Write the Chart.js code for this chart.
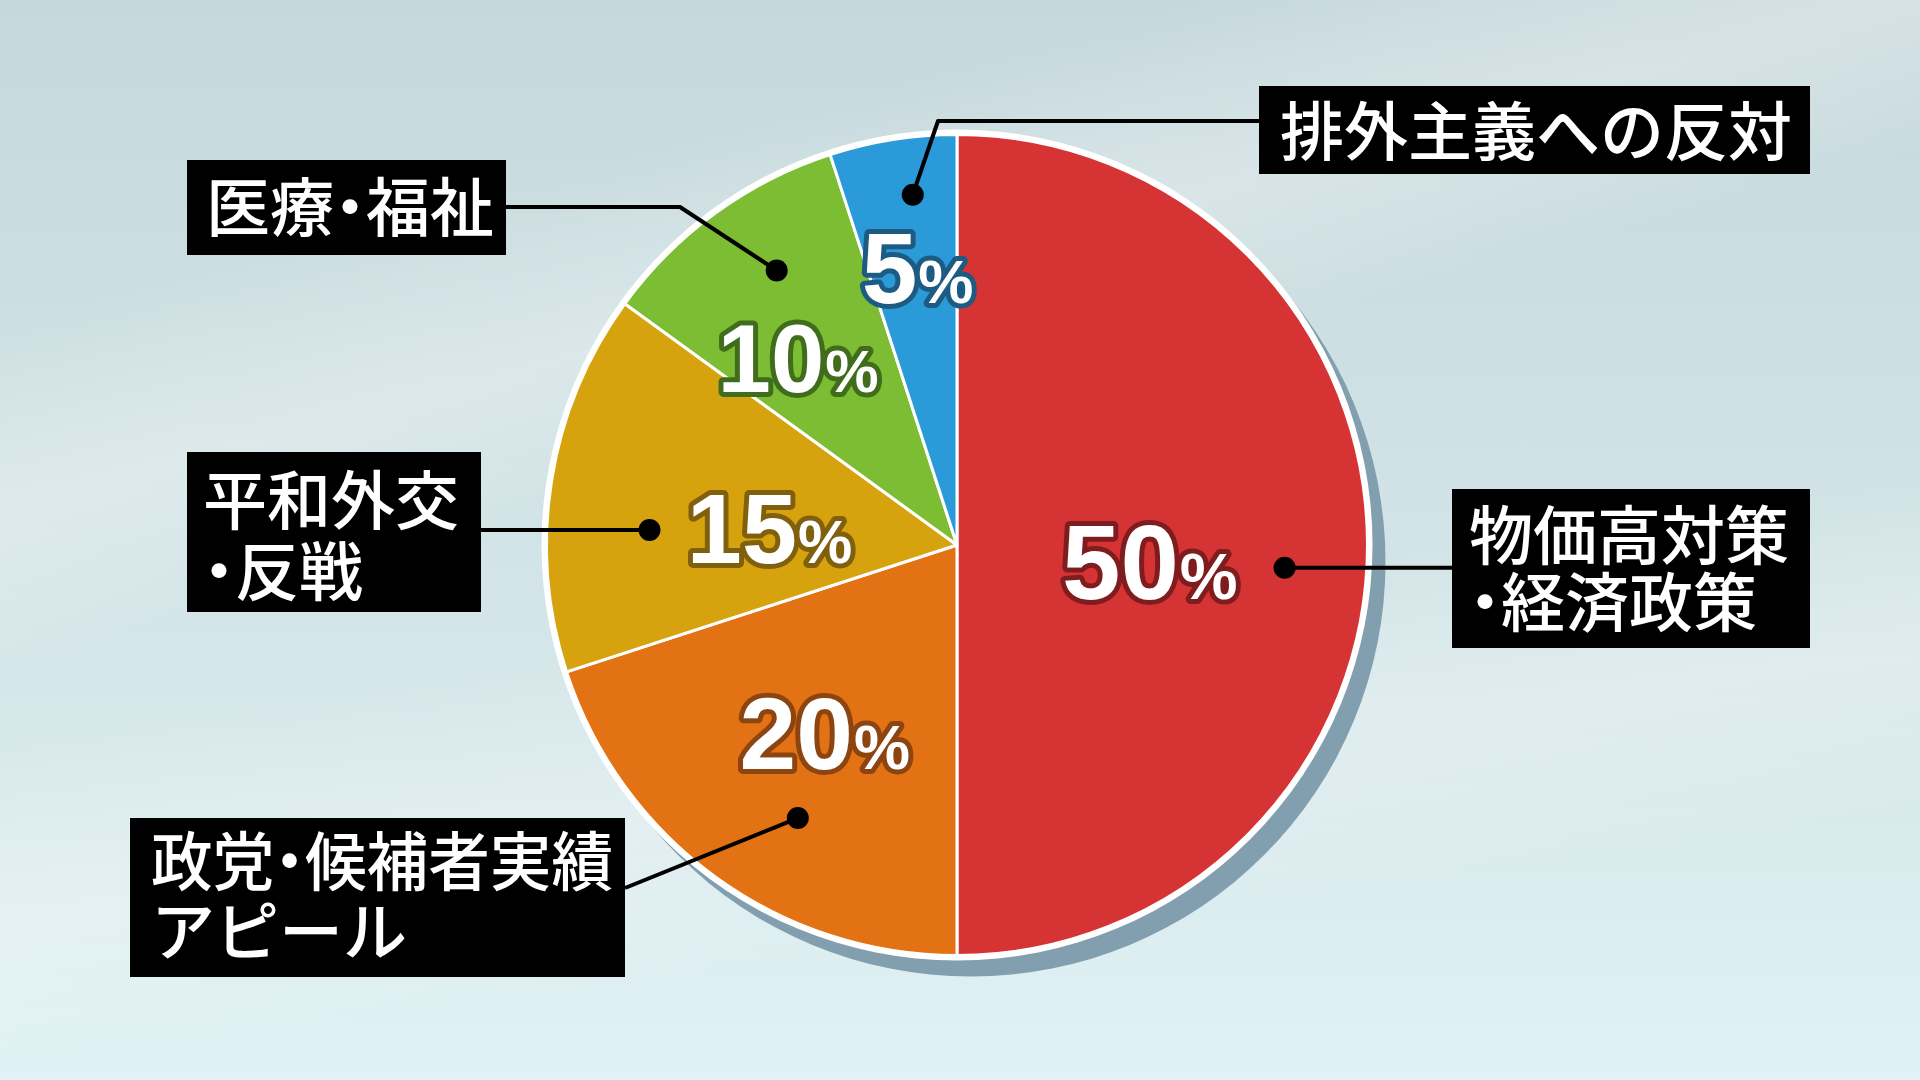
<!DOCTYPE html>
<html lang="ja">
<head>
<meta charset="utf-8">
<title>重視する争点</title>
<script src="https://cdn.jsdelivr.net/npm/chart.js@4.4.1/dist/chart.umd.min.js"></script>
<style>
  html, body { margin: 0; padding: 0; width: 1920px; height: 1080px; overflow: hidden; }
  body {
    background:
      linear-gradient(165deg, rgba(255,255,255,0) 20%, rgba(255,255,255,0.28) 32%, rgba(255,255,255,0) 42%),
      linear-gradient(172deg, rgba(255,255,255,0) 55%, rgba(255,255,255,0.25) 68%, rgba(255,255,255,0) 80%),
      linear-gradient(180deg, #c6d8dc 0%, #cfe1e4 40%, #d9eaed 75%, #e0f2f5 100%);
  }
  #wrap { position: relative; width: 1920px; height: 1080px; }
</style>
</head>
<body>
<div id="wrap"><canvas id="pie"></canvas></div>
<script>
// slices, clockwise from 12 o'clock
const categories = ["物価高対策\n・経済政策", "政党・候補者実績\nアピール", "平和外交\n・反戦", "医療・福祉", "排外主義への反対"];
const shares = [50, 20, 15, 10, 5];
const sliceColors = ["#d63334", "#e37215", "#d6a30f", "#7cbd33", "#2b9ad8"];
const outlineColors = ["#7e1c1e", "#8c4511", "#80600c", "#3f6d1c", "#1c5b82"];

// where each callout sits (dot as fraction of slice angle / radius, line, box, text)
const callouts = [
  { dot: [0.522, 0.80], line: [["h", 1452]], box: [1452, 489, 358, 159], tx: 1469, ty: [535, 602] },
  { dot: [0.42, 0.77], line: [[625, 888]], box: [130, 818, 495, 159], tx: 151, ty: [861, 931] },
  { dot: [0.385, 0.75], line: [["h", 481]], box: [187, 452, 294, 160], tx: 203, ty: [500, 571] },
  { dot: [0.575, 0.80], line: [[680, 207], [506, 207]], box: [187, 160, 319, 95], tx: 206, ty: [207] },
  { dot: [0.6, 0.86], line: [[938, 121], [1259, 121]], box: [1259, 86, 551, 88], tx: 1280, ty: [131] }
];
// percentage text inside slices
const pctPlace = [
  { pos: [0.526, 0.47], size: 105 },
  { pos: [0.49, 0.56], size: 102 },
  { pos: [0.435, 0.46], size: 99 },
  { pos: [0.38, 0.60], size: 96 },
  { pos: [0.545, 0.683], size: 100 }
];

function pointOn(arc, frac, rfrac) {
  const a = arc.startAngle + (arc.endAngle - arc.startAngle) * frac;
  const r = arc.outerRadius * rfrac;
  return [arc.x + Math.cos(a) * r, arc.y + Math.sin(a) * r];
}

function drawPct(ctx, value, cx, cy, size, outline) {
  const num = String(value);
  const big = "bold " + size + "px 'Liberation Sans', Arial, sans-serif";
  const small = "bold " + Math.round(size * 0.62) + "px 'Liberation Sans', Arial, sans-serif";
  ctx.font = big;
  const w1 = ctx.measureText(num).width;
  ctx.font = small;
  const w2 = ctx.measureText("%").width;
  const x0 = cx - (w1 + w2) / 2;
  const base = cy + size * 0.36;
  ctx.lineJoin = "round";
  ctx.lineWidth = 10;
  ctx.strokeStyle = outline;
  ctx.fillStyle = "#fff";
  ctx.textBaseline = "alphabetic";
  ctx.textAlign = "left";
  ctx.font = big; ctx.strokeText(num, x0, base);
  ctx.font = small; ctx.strokeText("%", x0 + w1 + 1, base);
  ctx.font = big; ctx.fillText(num, x0, base);
  ctx.font = small; ctx.fillText("%", x0 + w1 + 1, base);
}

// the nakaguro gets half an em, like the caption font in the picture
function drawCaption(ctx, text, x, y, maxW) {
  const em = 64;
  const chars = [...text];
  const widths = chars.map(ch => ch === "・" ? em * 0.5 : ctx.measureText(ch).width);
  const total = widths.reduce((a, b) => a + b, 0);
  const s = Math.min(1, maxW / total);
  ctx.save();
  ctx.translate(x, y);
  ctx.scale(s, 1);
  let cx = 0;
  chars.forEach((ch, k) => {
    if (ch === "・") {
      ctx.textAlign = "center";
      ctx.fillText(ch, cx + widths[k] / 2, 0);
    } else {
      ctx.textAlign = "left";
      ctx.fillText(ch, cx, 0);
    }
    cx += widths[k];
  });
  ctx.restore();
}

const calloutPlugin = {
  id: "callouts",
  beforeDatasetsDraw(chart) {
    const arc = chart.getDatasetMeta(0).data[0];
    const ctx = chart.ctx;
    ctx.save();
    // drop shadow + white rim
    ctx.fillStyle = "#819fae";
    ctx.beginPath();
    ctx.arc(arc.x + 14, arc.y + 17, arc.outerRadius + 4, 0, Math.PI * 2);
    ctx.fill();
    ctx.fillStyle = "#ffffff";
    ctx.beginPath();
    ctx.arc(arc.x, arc.y, arc.outerRadius + 5, 0, Math.PI * 2);
    ctx.fill();
    ctx.restore();
  },
  afterDatasetsDraw(chart) {
    const arcs = chart.getDatasetMeta(0).data;
    const ctx = chart.ctx;
    ctx.save();

    arcs.forEach((arc, i) => {
      const c = callouts[i];
      const [dx, dy] = pointOn(arc, c.dot[0], c.dot[1]);
      ctx.strokeStyle = "#000";
      ctx.lineWidth = 4;
      ctx.lineJoin = "round";
      ctx.beginPath();
      ctx.moveTo(dx, dy);
      c.line.forEach(p => {
        if (p[0] === "h") ctx.lineTo(p[1], dy);
        else ctx.lineTo(p[0], p[1]);
      });
      ctx.stroke();
      ctx.fillStyle = "#000";
      ctx.beginPath();
      ctx.arc(dx, dy, 11, 0, Math.PI * 2);
      ctx.fill();

      const [bx, by, bw, bh] = c.box;
      ctx.fillStyle = "#000";
      ctx.fillRect(bx, by, bw, bh);
      ctx.fillStyle = "#fff";
      ctx.font = "500 64px 'Noto Sans CJK JP', sans-serif";
      ctx.textBaseline = "middle";
      categories[i].split("\n").forEach((line, k) => {
        drawCaption(ctx, line, c.tx, c.ty[k], bx + bw - c.tx - 12);
      });
    });

    arcs.forEach((arc, i) => {
      const p = pctPlace[i];
      const [px, py] = pointOn(arc, p.pos[0], p.pos[1]);
      drawPct(ctx, shares[i], px, py, p.size, outlineColors[i]);
    });

    ctx.restore();
  }
};

new Chart(document.getElementById("pie"), {
  type: "pie",
  data: {
    labels: categories,
    datasets: [
      {
        data: shares,
        backgroundColor: sliceColors,
        borderColor: "#ffffff",
        borderWidth: 3,
      },
    ],
  },
  options: {
    responsive: true,
    maintainAspectRatio: false,
    animation: false,
    events: [],
    layout: {
      padding: { top: 133, bottom: 123, left: 545, right: 551 },
    },
    plugins: {
      legend: { display: false },
      tooltip: { enabled: false },
    },
  },
  plugins: [calloutPlugin],
});
</script>
</body>
</html>
